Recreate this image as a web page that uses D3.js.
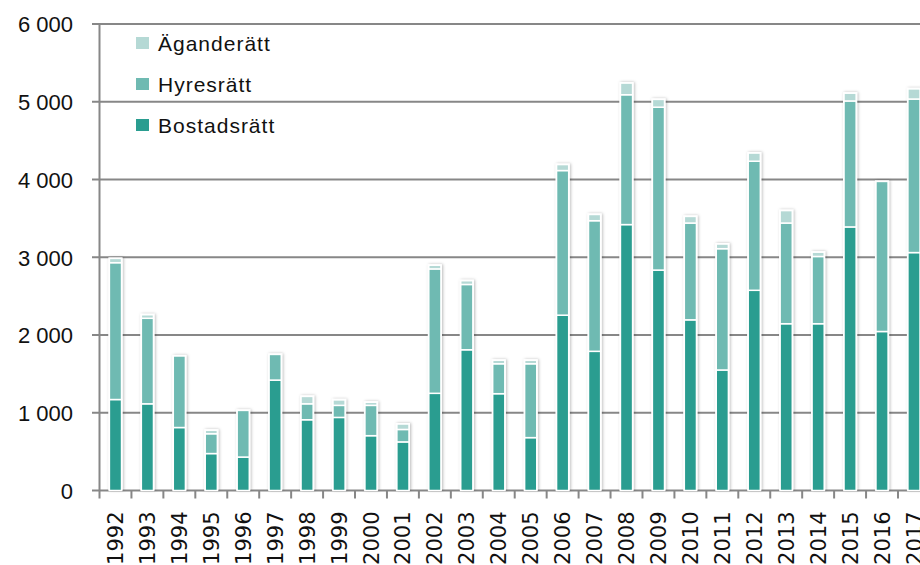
<!DOCTYPE html>
<html>
<head>
<meta charset="utf-8">
<script src="https://cdn.jsdelivr.net/npm/d3@7"></script>
<style>
  html, body { margin: 0; padding: 0; background: #fff; overflow: hidden; }
  svg { display: block; font-family: "Liberation Sans", Arial, sans-serif; }
</style>
</head>
<body>
<div id="chart"></div>
<script>
// data
var years = ["1992","1993","1994","1995","1996","1997","1998","1999","2000","2001","2002","2003","2004",
             "2005","2006","2007","2008","2009","2010","2011","2012","2013","2014","2015","2016","2017"];
var bostadsratt = [1170,1115,810,475,430,1420,910,940,705,625,1250,1810,1245,680,2255,1790,3420,2835,2195,1550,2575,2145,2145,3390,2045,3060];
var hyresratt   = [1760,1100,920,255,600,330,205,155,390,160,1600,840,385,950,1860,1680,1670,2095,1245,1560,1660,1295,865,1620,1930,1975];
var aganderatt  = [55,45,0,45,0,0,95,70,40,70,47,48,45,45,77,80,150,100,85,60,105,160,55,100,0,130];
var seriesNames = ["Bostadsrätt", "Hyresrätt", "Äganderätt"];
var seriesColors = ["#2a9d90", "#6fbab2", "#b5d9d5"];
var yTicks = [0, 1000, 2000, 3000, 4000, 5000, 6000];

var W = 920, H = 565;

var svg = d3.select("#chart").append("svg")
    .attr("width", W)
    .attr("height", H);

// soft shadow round the bars
var defs = svg.append("defs");
var f = defs.append("filter").attr("id", "shadow")
    .attr("x", "-60%").attr("y", "-10%").attr("width", "220%").attr("height", "120%");
f.append("feDropShadow")
    .attr("dx", 1).attr("dy", 0)
    .attr("stdDeviation", 1.8)
    .attr("flood-color", "#000")
    .attr("flood-opacity", 0.28);

var x = d3.scaleBand()
    .domain(years)
    .range([99.5, 99.5 + years.length * 31.94])
    .paddingInner(0);

var y = d3.scaleLinear()
    .domain([0, 6000])
    .range([490.5, 24]);

// gridlines
svg.append("g")
    .selectAll("line")
    .data(yTicks)
    .enter()
    .append("line")
        .attr("x1", 92)
        .attr("x2", W)
        .attr("y1", function(d){ return y(d); })
        .attr("y2", function(d){ return y(d); })
        .attr("stroke", "#878787")
        .attr("stroke-width", 2);

// vertical axis line
svg.append("line")
    .attr("x1", 99.5).attr("x2", 99.5)
    .attr("y1", y(6000)).attr("y2", y(0))
    .attr("stroke", "#878787")
    .attr("stroke-width", 2);

// y axis labels
var yAxis = d3.axisLeft(y)
    .tickValues(yTicks)
    .tickSize(0)
    .tickPadding(0)
    .tickFormat(function(d){ return d3.format(",")(d).replace(/,/g, " "); });

svg.append("g")
    .attr("transform", "translate(73,0)")
    .call(yAxis)
    .call(function(g){ g.select(".domain").remove(); })
    .selectAll("text")
        .attr("font-size", 22)
        .attr("font-family", "'Liberation Sans', Arial, sans-serif")
        .attr("fill", "#111")
        .attr("dy", "0.36em");

// x tick marks at the band edges
svg.append("g")
    .selectAll("line")
    .data(years)
    .enter()
    .append("line")
        .attr("x1", function(d){ return x(d); })
        .attr("x2", function(d){ return x(d); })
        .attr("y1", y(0))
        .attr("y2", y(0) + 8)
        .attr("stroke", "#878787")
        .attr("stroke-width", 2);

// year labels (run off the bottom edge, as in the original)
var xAxis = d3.axisBottom(x).tickSize(0).tickPadding(0);
svg.append("g")
    .attr("transform", "translate(0," + y(0) + ")")
    .call(xAxis)
    .call(function(g){ g.select(".domain").remove(); })
    .selectAll("text")
        .attr("font-size", 21)
        .attr("font-family", "'DejaVu Sans', sans-serif")
        .attr("fill", "#111")
        .attr("text-anchor", "end")
        .attr("transform", "translate(0,21) rotate(-90)")
        .attr("x", 0)
        .attr("y", 0)
        .attr("dy", "0.36em");

// stack the series
var table = years.map(function(yr, i){
    return { year: yr, b: bostadsratt[i], h: hyresratt[i], a: aganderatt[i] };
});
var stack = d3.stack().keys(["b", "h", "a"]);
var layers = stack(table);

var barW = x.bandwidth() * 0.38;
var barOff = (x.bandwidth() - barW) / 2;

// shadows first, as one rect per bar
svg.append("g")
    .selectAll("rect")
    .data(table)
    .enter()
    .append("rect")
        .attr("x", function(d){ return x(d.year) + barOff - 1; })
        .attr("y", function(d){ return y(d.b + d.h + d.a) - 1; })
        .attr("width", barW + 2)
        .attr("height", function(d){ return y(0) - y(d.b + d.h + d.a) + 1; })
        .attr("fill", "#fff")
        .attr("filter", "url(#shadow)");

svg.append("g")
    .selectAll("g")
    .data(layers)
    .enter()
    .append("g")
        .attr("fill", function(d, i){ return seriesColors[i]; })
    .selectAll("rect")
    .data(function(d){ return d.filter(function(p){ return p[1] - p[0] > 0; }); })
    .enter()
    .append("rect")
        .attr("x", function(d){ return x(d.data.year) + barOff; })
        .attr("y", function(d){ return y(d[1]); })
        .attr("width", barW)
        .attr("height", function(d){ return y(d[0]) - y(d[1]); })
        .attr("stroke", "#fff")
        .attr("stroke-width", 1.5);

// legend
var legendOrder = [2, 1, 0];
var legend = svg.append("g");
legendOrder.forEach(function(si, k){
    var row = legend.append("g")
        .attr("transform", "translate(136," + (43 + k * 41) + ")");
    row.append("rect")
        .attr("x", 0).attr("y", -6)
        .attr("width", 13).attr("height", 12)
        .attr("fill", seriesColors[si]);
    row.append("text")
        .attr("x", 22)
        .attr("y", 0)
        .attr("dy", "0.36em")
        .attr("font-size", 21)
        .attr("letter-spacing", 1)
        .attr("fill", "#111")
        .text(seriesNames[si]);
});
</script>
</body>
</html>
